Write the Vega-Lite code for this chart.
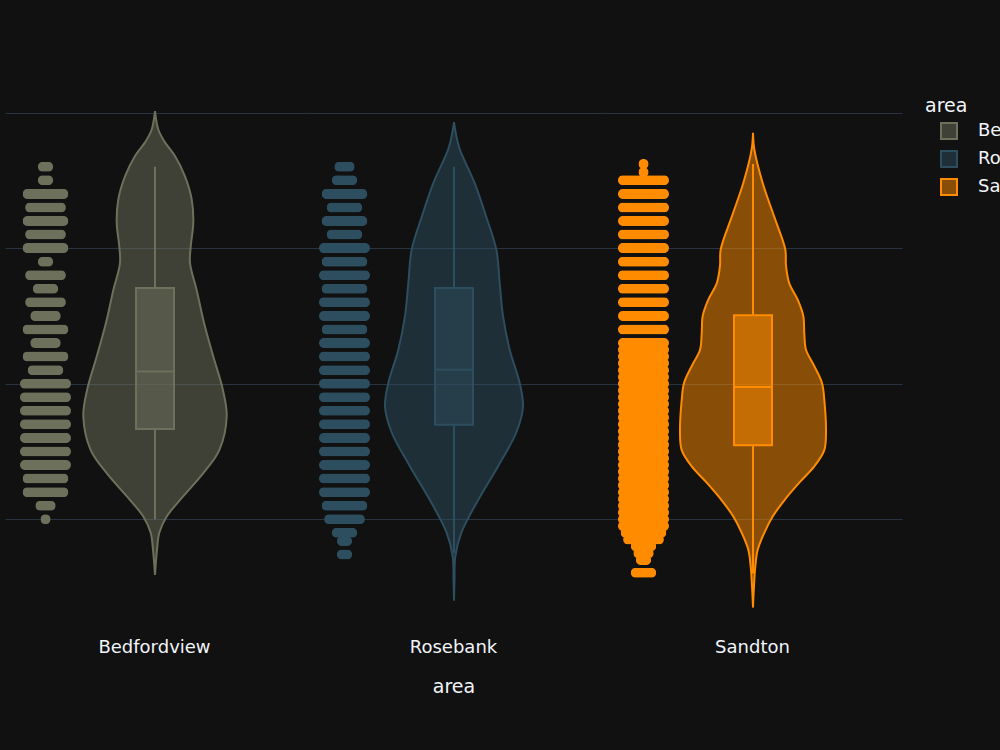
{
  "$schema": "https://vega.github.io/schema/vega-lite/v6.json",
  "background": "#111111",
  "autosize": {"type": "none"},
  "padding": {"left": 5, "top": 99, "right": 995, "bottom": 651},
  "datasets": {
    "rows": [
      {"kind": "v", "area": "Bedfordview", "value": 5.9, "w": 0},
      {"kind": "v", "area": "Bedfordview", "value": 7.75, "w": 2},
      {"kind": "v", "area": "Bedfordview", "value": 9.0, "w": 4.3},
      {"kind": "v", "area": "Bedfordview", "value": 10.2, "w": 11.7},
      {"kind": "v", "area": "Bedfordview", "value": 11.7, "w": 28.3},
      {"kind": "v", "area": "Bedfordview", "value": 13.4, "w": 48.3},
      {"kind": "v", "area": "Bedfordview", "value": 15.1, "w": 64.3},
      {"kind": "v", "area": "Bedfordview", "value": 17.6, "w": 71.7},
      {"kind": "v", "area": "Bedfordview", "value": 19.6, "w": 67.7},
      {"kind": "v", "area": "Bedfordview", "value": 22.0, "w": 58.3},
      {"kind": "v", "area": "Bedfordview", "value": 24.5, "w": 49},
      {"kind": "v", "area": "Bedfordview", "value": 26.9, "w": 41.7},
      {"kind": "v", "area": "Bedfordview", "value": 28.9, "w": 35},
      {"kind": "v", "area": "Bedfordview", "value": 30.1, "w": 35.7},
      {"kind": "v", "area": "Bedfordview", "value": 31.9, "w": 38.3},
      {"kind": "v", "area": "Bedfordview", "value": 33.6, "w": 36.7},
      {"kind": "v", "area": "Bedfordview", "value": 35.3, "w": 30},
      {"kind": "v", "area": "Bedfordview", "value": 36.8, "w": 20},
      {"kind": "v", "area": "Bedfordview", "value": 37.8, "w": 10},
      {"kind": "v", "area": "Bedfordview", "value": 38.75, "w": 3.3},
      {"kind": "v", "area": "Bedfordview", "value": 40.1, "w": 0},

      {"kind": "v", "area": "Rosebank", "value": 4.0, "w": 0},
      {"kind": "v", "area": "Rosebank", "value": 5.5, "w": 0.5},
      {"kind": "v", "area": "Rosebank", "value": 7.25, "w": 1.3},
      {"kind": "v", "area": "Rosebank", "value": 9.0, "w": 7.3},
      {"kind": "v", "area": "Rosebank", "value": 11.4, "w": 24},
      {"kind": "v", "area": "Rosebank", "value": 13.9, "w": 44},
      {"kind": "v", "area": "Rosebank", "value": 16.4, "w": 62.3},
      {"kind": "v", "area": "Rosebank", "value": 18.3, "w": 69},
      {"kind": "v", "area": "Rosebank", "value": 20.05, "w": 65.7},
      {"kind": "v", "area": "Rosebank", "value": 22.5, "w": 55.7},
      {"kind": "v", "area": "Rosebank", "value": 25.0, "w": 49},
      {"kind": "v", "area": "Rosebank", "value": 27.4, "w": 45.7},
      {"kind": "v", "area": "Rosebank", "value": 29.9, "w": 42.3},
      {"kind": "v", "area": "Rosebank", "value": 32.3, "w": 32.3},
      {"kind": "v", "area": "Rosebank", "value": 34.8, "w": 20.7},
      {"kind": "v", "area": "Rosebank", "value": 37.3, "w": 5.7},
      {"kind": "v", "area": "Rosebank", "value": 38.4, "w": 2},
      {"kind": "v", "area": "Rosebank", "value": 39.3, "w": 0},

      {"kind": "v", "area": "Sandton", "value": 3.5, "w": 0},
      {"kind": "v", "area": "Sandton", "value": 4.8, "w": 0.8},
      {"kind": "v", "area": "Sandton", "value": 6.5, "w": 2.3},
      {"kind": "v", "area": "Sandton", "value": 7.75, "w": 4.7},
      {"kind": "v", "area": "Sandton", "value": 9.0, "w": 11.3},
      {"kind": "v", "area": "Sandton", "value": 10.2, "w": 19.7},
      {"kind": "v", "area": "Sandton", "value": 11.4, "w": 31.3},
      {"kind": "v", "area": "Sandton", "value": 12.7, "w": 46.3},
      {"kind": "v", "area": "Sandton", "value": 13.9, "w": 61.3},
      {"kind": "v", "area": "Sandton", "value": 15.1, "w": 71.3},
      {"kind": "v", "area": "Sandton", "value": 16.4, "w": 73},
      {"kind": "v", "area": "Sandton", "value": 18.8, "w": 71.3},
      {"kind": "v", "area": "Sandton", "value": 20.05, "w": 69},
      {"kind": "v", "area": "Sandton", "value": 21.3, "w": 61.3},
      {"kind": "v", "area": "Sandton", "value": 22.5, "w": 53},
      {"kind": "v", "area": "Sandton", "value": 23.7, "w": 51.3},
      {"kind": "v", "area": "Sandton", "value": 25.0, "w": 50.3},
      {"kind": "v", "area": "Sandton", "value": 26.2, "w": 44.7},
      {"kind": "v", "area": "Sandton", "value": 27.4, "w": 36.3},
      {"kind": "v", "area": "Sandton", "value": 28.7, "w": 33},
      {"kind": "v", "area": "Sandton", "value": 29.9, "w": 32.3},
      {"kind": "v", "area": "Sandton", "value": 32.3, "w": 21.3},
      {"kind": "v", "area": "Sandton", "value": 34.8, "w": 9.7},
      {"kind": "v", "area": "Sandton", "value": 37.3, "w": 1.3},
      {"kind": "v", "area": "Sandton", "value": 38.5, "w": 0},

      {"kind": "b", "area": "Bedfordview", "q1": 16.66, "q3": 27.06, "med": 20.9, "lo": 10, "hi": 36},
      {"kind": "b", "area": "Rosebank", "q1": 16.97, "q3": 27.06, "med": 21.03, "lo": 7.5, "hi": 36},
      {"kind": "b", "area": "Sandton", "q1": 15.45, "q3": 25.04, "med": 19.76, "lo": 6, "hi": 36.2},

      {"kind": "p", "area": "Bedfordview", "value": 36, "n": 3},
      {"kind": "p", "area": "Bedfordview", "value": 35, "n": 3},
      {"kind": "p", "area": "Bedfordview", "value": 34, "n": 9},
      {"kind": "p", "area": "Bedfordview", "value": 33, "n": 8},
      {"kind": "p", "area": "Bedfordview", "value": 32, "n": 9},
      {"kind": "p", "area": "Bedfordview", "value": 31, "n": 8},
      {"kind": "p", "area": "Bedfordview", "value": 30, "n": 9},
      {"kind": "p", "area": "Bedfordview", "value": 29, "n": 3},
      {"kind": "p", "area": "Bedfordview", "value": 28, "n": 8},
      {"kind": "p", "area": "Bedfordview", "value": 27, "n": 5},
      {"kind": "p", "area": "Bedfordview", "value": 26, "n": 8},
      {"kind": "p", "area": "Bedfordview", "value": 25, "n": 6},
      {"kind": "p", "area": "Bedfordview", "value": 24, "n": 9},
      {"kind": "p", "area": "Bedfordview", "value": 23, "n": 6},
      {"kind": "p", "area": "Bedfordview", "value": 22, "n": 9},
      {"kind": "p", "area": "Bedfordview", "value": 21, "n": 7},
      {"kind": "p", "area": "Bedfordview", "value": 20, "n": 10},
      {"kind": "p", "area": "Bedfordview", "value": 19, "n": 10},
      {"kind": "p", "area": "Bedfordview", "value": 18, "n": 10},
      {"kind": "p", "area": "Bedfordview", "value": 17, "n": 10},
      {"kind": "p", "area": "Bedfordview", "value": 16, "n": 10},
      {"kind": "p", "area": "Bedfordview", "value": 15, "n": 10},
      {"kind": "p", "area": "Bedfordview", "value": 14, "n": 10},
      {"kind": "p", "area": "Bedfordview", "value": 13, "n": 9},
      {"kind": "p", "area": "Bedfordview", "value": 12, "n": 9},
      {"kind": "p", "area": "Bedfordview", "value": 11, "n": 4},
      {"kind": "p", "area": "Bedfordview", "value": 10, "n": 2},

      {"kind": "p", "area": "Rosebank", "value": 36, "n": 4},
      {"kind": "p", "area": "Rosebank", "value": 35, "n": 5},
      {"kind": "p", "area": "Rosebank", "value": 34, "n": 9},
      {"kind": "p", "area": "Rosebank", "value": 33, "n": 7},
      {"kind": "p", "area": "Rosebank", "value": 32, "n": 9},
      {"kind": "p", "area": "Rosebank", "value": 31, "n": 7},
      {"kind": "p", "area": "Rosebank", "value": 30, "n": 10},
      {"kind": "p", "area": "Rosebank", "value": 29, "n": 9},
      {"kind": "p", "area": "Rosebank", "value": 28, "n": 10},
      {"kind": "p", "area": "Rosebank", "value": 27, "n": 9},
      {"kind": "p", "area": "Rosebank", "value": 26, "n": 10},
      {"kind": "p", "area": "Rosebank", "value": 25, "n": 10},
      {"kind": "p", "area": "Rosebank", "value": 24, "n": 9},
      {"kind": "p", "area": "Rosebank", "value": 23, "n": 10},
      {"kind": "p", "area": "Rosebank", "value": 22, "n": 10},
      {"kind": "p", "area": "Rosebank", "value": 21, "n": 10},
      {"kind": "p", "area": "Rosebank", "value": 20, "n": 10},
      {"kind": "p", "area": "Rosebank", "value": 19, "n": 10},
      {"kind": "p", "area": "Rosebank", "value": 18, "n": 10},
      {"kind": "p", "area": "Rosebank", "value": 17, "n": 10},
      {"kind": "p", "area": "Rosebank", "value": 16, "n": 10},
      {"kind": "p", "area": "Rosebank", "value": 15, "n": 10},
      {"kind": "p", "area": "Rosebank", "value": 14, "n": 10},
      {"kind": "p", "area": "Rosebank", "value": 13, "n": 10},
      {"kind": "p", "area": "Rosebank", "value": 12, "n": 10},
      {"kind": "p", "area": "Rosebank", "value": 11, "n": 9},
      {"kind": "p", "area": "Rosebank", "value": 10, "n": 8},
      {"kind": "p", "area": "Rosebank", "value": 9, "n": 5},
      {"kind": "p", "area": "Rosebank", "value": 8.4, "n": 3},
      {"kind": "p", "area": "Rosebank", "value": 7.4, "n": 3},

      {"kind": "p", "area": "Sandton", "value": 36.2, "n": 2},
      {"kind": "p", "area": "Sandton", "value": 35.6, "n": 2},
      {"kind": "p", "area": "Sandton", "value": 35, "n": 10},
      {"kind": "p", "area": "Sandton", "value": 34, "n": 10},
      {"kind": "p", "area": "Sandton", "value": 33, "n": 10},
      {"kind": "p", "area": "Sandton", "value": 32, "n": 10},
      {"kind": "p", "area": "Sandton", "value": 31, "n": 10},
      {"kind": "p", "area": "Sandton", "value": 30, "n": 10},
      {"kind": "p", "area": "Sandton", "value": 29, "n": 10},
      {"kind": "p", "area": "Sandton", "value": 28, "n": 10},
      {"kind": "p", "area": "Sandton", "value": 27, "n": 10},
      {"kind": "p", "area": "Sandton", "value": 26, "n": 10},
      {"kind": "p", "area": "Sandton", "value": 25, "n": 10},
      {"kind": "p", "area": "Sandton", "value": 24, "n": 10},
      {"kind": "p", "area": "Sandton", "value": 23, "n": 10},
      {"kind": "p", "area": "Sandton", "value": 22.5, "n": 10},
      {"kind": "p", "area": "Sandton", "value": 22, "n": 10},
      {"kind": "p", "area": "Sandton", "value": 21.5, "n": 10},
      {"kind": "p", "area": "Sandton", "value": 21, "n": 10},
      {"kind": "p", "area": "Sandton", "value": 20.5, "n": 10},
      {"kind": "p", "area": "Sandton", "value": 20, "n": 10},
      {"kind": "p", "area": "Sandton", "value": 19.5, "n": 10},
      {"kind": "p", "area": "Sandton", "value": 19, "n": 10},
      {"kind": "p", "area": "Sandton", "value": 18.5, "n": 10},
      {"kind": "p", "area": "Sandton", "value": 18, "n": 10},
      {"kind": "p", "area": "Sandton", "value": 17.5, "n": 10},
      {"kind": "p", "area": "Sandton", "value": 17, "n": 10},
      {"kind": "p", "area": "Sandton", "value": 16.5, "n": 10},
      {"kind": "p", "area": "Sandton", "value": 16, "n": 10},
      {"kind": "p", "area": "Sandton", "value": 15.5, "n": 10},
      {"kind": "p", "area": "Sandton", "value": 15, "n": 10},
      {"kind": "p", "area": "Sandton", "value": 14.5, "n": 10},
      {"kind": "p", "area": "Sandton", "value": 14, "n": 10},
      {"kind": "p", "area": "Sandton", "value": 13.5, "n": 10},
      {"kind": "p", "area": "Sandton", "value": 13, "n": 10},
      {"kind": "p", "area": "Sandton", "value": 12.5, "n": 10},
      {"kind": "p", "area": "Sandton", "value": 12, "n": 10},
      {"kind": "p", "area": "Sandton", "value": 11.5, "n": 10},
      {"kind": "p", "area": "Sandton", "value": 11, "n": 10},
      {"kind": "p", "area": "Sandton", "value": 10.5, "n": 10},
      {"kind": "p", "area": "Sandton", "value": 10, "n": 10},
      {"kind": "p", "area": "Sandton", "value": 9.5, "n": 10},
      {"kind": "p", "area": "Sandton", "value": 9, "n": 9},
      {"kind": "p", "area": "Sandton", "value": 8.5, "n": 8},
      {"kind": "p", "area": "Sandton", "value": 8, "n": 5},
      {"kind": "p", "area": "Sandton", "value": 7.5, "n": 4},
      {"kind": "p", "area": "Sandton", "value": 7, "n": 3},
      {"kind": "p", "area": "Sandton", "value": 6.05, "n": 5}
    ]
  },
  "data": {"name": "rows"},
  "facet": {
    "column": {
      "field": "area",
      "type": "nominal",
      "title": "area",
      "header": {
        "labelOrient": "bottom",
        "titleOrient": "bottom",
        "labelFontSize": 18,
        "titleFontSize": 19,
        "labelColor": "#f2f5fa",
        "titleColor": "#f2f5fa",
        "titleFontWeight": "normal",
        "labelPadding": 14,
        "titlePadding": 11
      }
    }
  },
  "spacing": {"column": 0},
  "spec": {
    "width": 299,
    "height": 526,
    "resolve": {"scale": {"x": "independent"}},
    "layer": [
      {
        "transform": [{"filter": "datum.kind === 'p'"}],
        "mark": {"type": "bar", "orient": "horizontal", "height": 10, "cornerRadius": 5},
        "encoding": {
          "y": {"field": "value", "type": "quantitative", "scale": {"domain": [2.2, 41], "nice": false, "zero": false, "padding": 0}},
          "x": {"field": "n", "type": "quantitative", "stack": "center", "axis": null, "scale": {"domain": [-2.94, 55.69], "nice": false, "zero": false, "padding": 0}},
          "color": {"field": "area", "type": "nominal", "scale": {"domain": ["Bedfordview", "Rosebank", "Sandton"], "range": ["#6d705b", "#2d4e5e", "#ff8c00"]}, "title": "area",
            "legend": {"orient": "none", "legendX": 920, "legendY": -2, "encode": {"symbols": {"update": {"stroke": {"scale": "color", "field": "value"}, "fillOpacity": {"value": 0.5}, "strokeOpacity": {"value": 1}, "opacity": {"value": 1}, "strokeWidth": {"value": 2}}}}}}
        }
      },
      {
        "transform": [{"filter": "datum.kind === 'v'"}],
        "mark": {"type": "area", "orient": "horizontal", "interpolate": "catmull-rom", "fillOpacity": 0.5},
        "encoding": {
          "y": {"field": "value", "type": "quantitative", "scale": {"domain": [2.2, 41], "nice": false, "zero": false, "padding": 0}},
          "x": {"field": "w", "type": "quantitative", "axis": null, "scale": {"domain": [-150, 149], "nice": false, "zero": false, "padding": 0}},
          "x2": {"datum": 0},
          "color": {"field": "area", "type": "nominal", "scale": {"domain": ["Bedfordview", "Rosebank", "Sandton"], "range": ["#6d705b", "#2d4e5e", "#ff8c00"]}, "title": "area"}
        }
      },
      {
        "transform": [{"filter": "datum.kind === 'v'"}],
        "mark": {"type": "area", "orient": "horizontal", "interpolate": "catmull-rom", "fillOpacity": 0.5},
        "encoding": {
          "y": {"field": "value", "type": "quantitative", "scale": {"domain": [2.2, 41], "nice": false, "zero": false, "padding": 0}},
          "x": {"field": "w", "type": "quantitative", "axis": null, "scale": {"domain": [-149, 150], "reverse": true, "nice": false, "zero": false, "padding": 0}},
          "x2": {"datum": 0},
          "color": {"field": "area", "type": "nominal", "scale": {"domain": ["Bedfordview", "Rosebank", "Sandton"], "range": ["#6d705b", "#2d4e5e", "#ff8c00"]}, "title": "area"}
        }
      },
      {
        "transform": [{"filter": "datum.kind === 'v'"}],
        "mark": {"type": "line", "interpolate": "catmull-rom", "strokeWidth": 2},
        "encoding": {
          "y": {"field": "value", "type": "quantitative", "scale": {"domain": [2.2, 41], "nice": false, "zero": false, "padding": 0}},
          "x": {"field": "w", "type": "quantitative", "axis": null, "scale": {"domain": [-150, 149], "nice": false, "zero": false, "padding": 0}},
          "order": {"field": "value", "type": "quantitative"},
          "color": {"field": "area", "type": "nominal", "scale": {"domain": ["Bedfordview", "Rosebank", "Sandton"], "range": ["#6d705b", "#2d4e5e", "#ff8c00"]}, "title": "area"}
        }
      },
      {
        "transform": [{"filter": "datum.kind === 'v'"}],
        "mark": {"type": "line", "interpolate": "catmull-rom", "strokeWidth": 2},
        "encoding": {
          "y": {"field": "value", "type": "quantitative", "scale": {"domain": [2.2, 41], "nice": false, "zero": false, "padding": 0}},
          "x": {"field": "w", "type": "quantitative", "axis": null, "scale": {"domain": [-149, 150], "reverse": true, "nice": false, "zero": false, "padding": 0}},
          "order": {"field": "value", "type": "quantitative"},
          "color": {"field": "area", "type": "nominal", "scale": {"domain": ["Bedfordview", "Rosebank", "Sandton"], "range": ["#6d705b", "#2d4e5e", "#ff8c00"]}, "title": "area"}
        }
      },
      {
        "transform": [{"filter": "datum.kind === 'b'"}],
        "mark": {"type": "rule", "strokeWidth": 2},
        "encoding": {
          "x": {"datum": 0, "type": "quantitative", "axis": null, "scale": {"domain": [-150, 149], "nice": false, "zero": false, "padding": 0}},
          "y": {"field": "lo", "type": "quantitative", "scale": {"domain": [2.2, 41], "nice": false, "zero": false, "padding": 0}},
          "y2": {"field": "q1"},
          "color": {"field": "area", "type": "nominal", "scale": {"domain": ["Bedfordview", "Rosebank", "Sandton"], "range": ["#6d705b", "#2d4e5e", "#ff8c00"]}, "title": "area"}
        }
      },
      {
        "transform": [{"filter": "datum.kind === 'b'"}],
        "mark": {"type": "rule", "strokeWidth": 2},
        "encoding": {
          "x": {"datum": 0, "type": "quantitative", "axis": null, "scale": {"domain": [-150, 149], "nice": false, "zero": false, "padding": 0}},
          "y": {"field": "q3", "type": "quantitative", "scale": {"domain": [2.2, 41], "nice": false, "zero": false, "padding": 0}},
          "y2": {"field": "hi"},
          "color": {"field": "area", "type": "nominal", "scale": {"domain": ["Bedfordview", "Rosebank", "Sandton"], "range": ["#6d705b", "#2d4e5e", "#ff8c00"]}, "title": "area"}
        }
      },
      {
        "transform": [{"filter": "datum.kind === 'b'"}],
        "mark": {"type": "rect", "fillOpacity": 0.5, "strokeWidth": 2},
        "encoding": {
          "x": {"datum": -19, "type": "quantitative", "axis": null, "scale": {"domain": [-150, 149], "nice": false, "zero": false, "padding": 0}},
          "x2": {"datum": 19},
          "y": {"field": "q1", "type": "quantitative", "scale": {"domain": [2.2, 41], "nice": false, "zero": false, "padding": 0}},
          "y2": {"field": "q3"},
          "color": {"field": "area", "type": "nominal", "scale": {"domain": ["Bedfordview", "Rosebank", "Sandton"], "range": ["#6d705b", "#2d4e5e", "#ff8c00"]}, "title": "area"},
          "stroke": {"field": "area", "type": "nominal", "scale": {"domain": ["Bedfordview", "Rosebank", "Sandton"], "range": ["#6d705b", "#2d4e5e", "#ff8c00"]}, "title": "area"}
        }
      },
      {
        "transform": [{"filter": "datum.kind === 'b'"}],
        "mark": {"type": "rule", "strokeWidth": 2},
        "encoding": {
          "x": {"datum": -19, "type": "quantitative", "axis": null, "scale": {"domain": [-150, 149], "nice": false, "zero": false, "padding": 0}},
          "x2": {"datum": 19},
          "y": {"field": "med", "type": "quantitative", "scale": {"domain": [2.2, 41], "nice": false, "zero": false, "padding": 0}},
          "color": {"field": "area", "type": "nominal", "scale": {"domain": ["Bedfordview", "Rosebank", "Sandton"], "range": ["#6d705b", "#2d4e5e", "#ff8c00"]}, "title": "area"}
        }
      }
    ]
  },
  "config": {
    "font": "DejaVu Sans",
    "view": {"stroke": null},
    "axisY": {"labels": false, "ticks": false, "domain": false, "title": null, "grid": true, "gridColor": "#283442", "gridWidth": 1, "tickCount": 4, "minExtent": 0, "maxExtent": 0},
    "legend": {
      "titleColor": "#f2f5fa",
      "labelColor": "#f2f5fa",
      "titleFontSize": 19,
      "labelFontSize": 18,
      "titleFontWeight": "normal",
      "symbolType": "square",
      "symbolSize": 256,
      "symbolStrokeWidth": 2,
      "symbolOffset": 15,
      "labelOffset": 20,
      "rowPadding": 4,
      "titlePadding": 6
    }
  }
}
